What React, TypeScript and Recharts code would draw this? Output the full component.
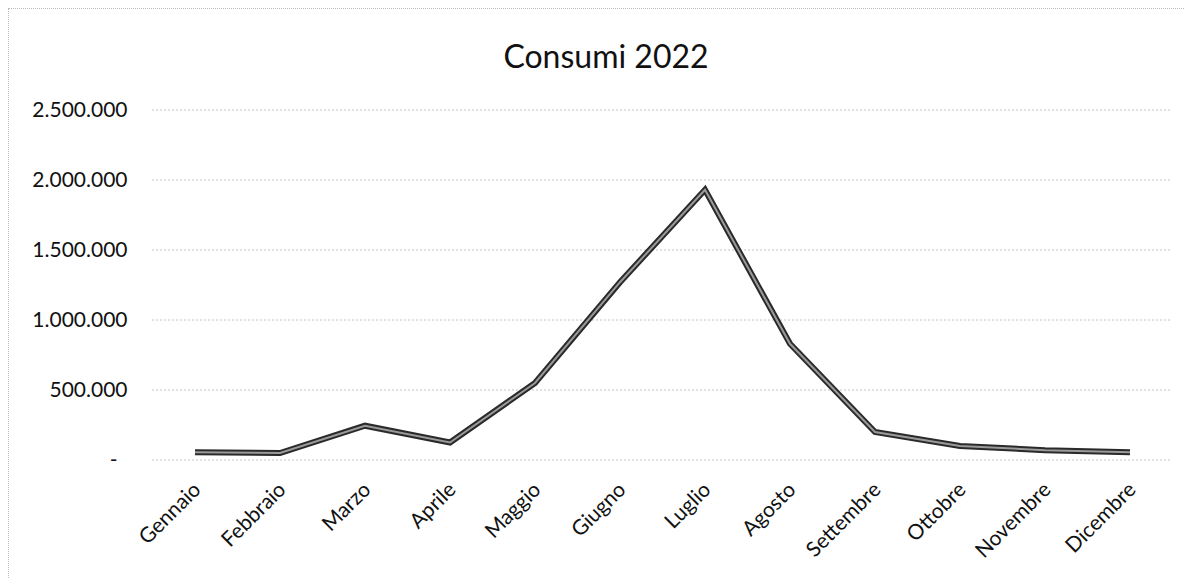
import React from 'react';
import { LineChart, Line, XAxis, YAxis, CartesianGrid } from 'recharts';

const title = 'Consumi 2022';
const months = ['Gennaio', 'Febbraio', 'Marzo', 'Aprile', 'Maggio', 'Giugno', 'Luglio', 'Agosto', 'Settembre', 'Ottobre', 'Novembre', 'Dicembre'];
const consumi = [55000, 50000, 245000, 125000, 550000, 1270000, 1930000, 830000, 200000, 100000, 70000, 55000];
const yTicks = [0, 500000, 1000000, 1500000, 2000000, 2500000];

const data = months.map((m, i) => ({ mese: m, valore: consumi[i] }));

const FONT = 'Lato, "Noto Sans", sans-serif';

const fmt = (v: number) => (v === 0 ? '-' : String(v).replace(/\B(?=(\d{3})+(?!\d))/g, '.'));

const YTick = (props: any) => {
  const { x, y, payload } = props;
  const v = payload.value as number;
  return (
    <text x={v === 0 ? x - 10 : x} y={y} dy={7} textAnchor="end" fontFamily={FONT} fontSize={21} fill="#111">
      {fmt(v)}
    </text>
  );
};

const XTick = (props: any) => {
  const { x, y, payload } = props;
  const ax = x + 7;
  const ay = y + 31;
  return (
    <text x={ax} y={ay} transform={`rotate(-45 ${ax} ${ay})`} textAnchor="end" fontFamily={FONT} fontSize={21} fill="#111">
      {payload.value}
    </text>
  );
};

export default function App() {
  return (
    <div style={{ position: 'relative', width: 1176, height: 570, borderTop: '1px dotted #bbb', borderLeft: '1px dotted #bbb', boxSizing: 'border-box' }}>
      <div
        style={{
          position: 'absolute',
          left: 597 - 200,
          width: 400,
          top: 31,
          textAlign: 'center',
          fontFamily: FONT,
          fontSize: 32,
          lineHeight: '32px',
          color: '#111',
        }}
      >
        {title}
      </div>
      <LineChart width={1175} height={569} data={data} margin={{ top: 101, right: 11.5, bottom: 0, left: 0 }}>
        <CartesianGrid horizontal vertical={false} stroke="#888" strokeDasharray="1 3" />
        <XAxis
          dataKey="mese"
          axisLine={false}
          tickLine={false}
          tickSize={0}
          tickMargin={0}
          height={118}
          interval={0}
          padding={{ left: 42.5, right: 42.5 }}
          tick={<XTick />}
        />
        <YAxis
          width={143.5}
          domain={[0, 2500000]}
          ticks={yTicks}
          axisLine={false}
          tickLine={false}
          tickSize={0}
          tickMargin={25}
          interval={0}
          tick={<YTick />}
        />
        <Line type="linear" dataKey="valore" stroke="#2a2a2a" strokeWidth={6} dot={false} isAnimationActive={false} />
        <Line type="linear" dataKey="valore" stroke="#9a9a9a" strokeWidth={2} dot={false} isAnimationActive={false} />
      </LineChart>
    </div>
  );
}
